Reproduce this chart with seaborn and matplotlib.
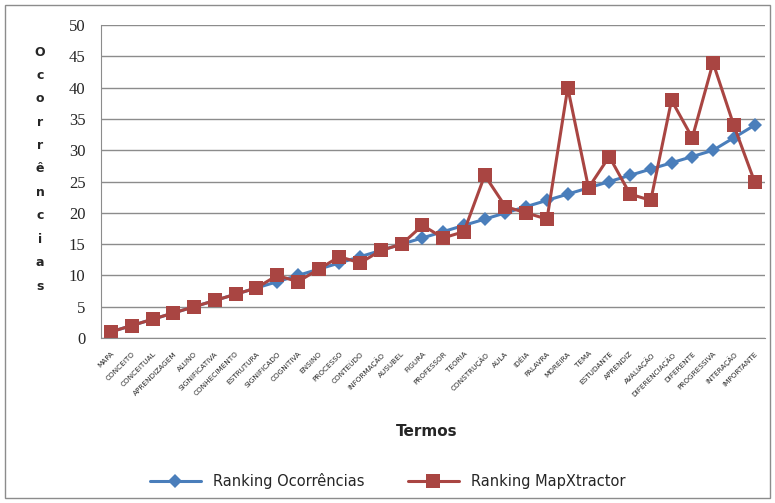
import matplotlib
matplotlib.use("Agg")
import matplotlib.pyplot as plt
from matplotlib.patches import Rectangle
import seaborn as sns
import pandas as pd
import numpy as np

termos = ["MAPA", "CONCEITO", "CONCEITUAL", "APRENDIZAGEM", "ALUNO", "SIGNIFICATIVA",
          "CONHECIMENTO", "ESTRUTURA", "SIGNIFICADO", "COGNITIVA", "ENSINO", "PROCESSO",
          "CONTEÚDO", "INFORMAÇÃO", "AUSUBEL", "FIGURA", "PROFESSOR", "TEORIA",
          "CONSTRUÇÃO", "AULA", "IDÉIA", "PALAVRA", "MOREIRA", "TEMA", "ESTUDANTE",
          "APRENDIZ", "AVALIAÇÃO", "DIFERENCIAÇÃO", "DIFERENTE", "PROGRESSIVA",
          "INTERAÇÃO", "IMPORTANTE"]
ranking_ocorrencias = [1, 2, 3, 4, 5, 6, 7, 8, 9, 10, 11, 12, 13, 14, 15, 16, 17, 18,
                       19, 20, 21, 22, 23, 24, 25, 26, 27, 28, 29, 30, 32, 34]
ranking_mapxtractor = [1, 2, 3, 4, 5, 6, 7, 8, 10, 9, 11, 13, 12, 14, 15, 18, 16, 17,
                       26, 21, 20, 19, 40, 24, 29, 23, 22, 38, 32, 44, 34, 25]
series_names = ["Ranking Ocorrências", "Ranking MapXtractor"]
yticks = [0, 5, 10, 15, 20, 25, 30, 35, 40, 45, 50]

df = pd.DataFrame({
    "Pos": list(range(len(termos))) * 2,
    "Valor": ranking_ocorrencias + ranking_mapxtractor,
    "Serie": [series_names[0]] * len(termos) + [series_names[1]] * len(termos),
})

sns.set_style("white")
plt.rcParams['font.family'] = ['DejaVu Sans']

fig = plt.figure(figsize=(7.75, 5.03), dpi=100)
ax = fig.add_axes([0.130, 0.328, 0.857, 0.622])

pal = {series_names[0]: "#4A7EBB", series_names[1]: "#A94542"}
sns.lineplot(data=df, x="Pos", y="Valor", hue="Serie", style="Serie",
             markers={series_names[0]: "D", series_names[1]: "s"},
             dashes=False, palette=pal, linewidth=2.2, markersize=10,
             markeredgewidth=0, ax=ax, legend=True)
# diamonds smaller than the squares
ax.lines[0].set_markersize(7)

ax.set_xlim(-0.5, len(termos) - 0.5)
ax.set_ylim(0, 50)
ax.set_yticks(yticks)
ax.set_yticklabels([str(v) for v in yticks], family="Liberation Serif", fontsize=12)
ax.yaxis.grid(True, color="#8c8c8c", linewidth=1)
ax.set_axisbelow(True)

ax.set_xticks(range(len(termos)))
ax.set_xticklabels(termos, rotation=45, ha="right", va="top", fontsize=5.2,
                   rotation_mode="anchor")
ax.set_xticks(np.arange(-0.5, len(termos)), minor=True)
ax.tick_params(axis="x", which="major", length=0, pad=9)
ax.tick_params(axis="x", which="minor", length=4, color="#8c8c8c", direction="out")
ax.tick_params(axis="y", length=5, color="#8c8c8c", direction="out", pad=6)

for s in ["top", "right"]:
    ax.spines[s].set_visible(False)
for s in ["left", "bottom"]:
    ax.spines[s].set_color("#8c8c8c")
ax.set_xlabel("")
ax.set_ylabel("")

# stacked y label
ylab = "Ocorrências"
for i, ch in enumerate(ylab):
    fig.text(40 / 775, 1 - (52 + i * 23.4) / 503, ch, ha="center", va="center",
             fontsize=9, fontweight="bold")

fig.text(427 / 775, 1 - 432 / 503, "Termos", ha="center", va="center",
         fontsize=11, fontweight="bold")

handles, labels = ax.get_legend_handles_labels()
ax.legend_.remove()
handles[0].set_markersize(7)
fig.legend(handles, labels, loc="center", bbox_to_anchor=(0.5, 1 - 481 / 503),
           ncol=2, frameon=False, fontsize=10.5, handlelength=3.5, columnspacing=3)

fig.patches.append(Rectangle((5 / 775, 5 / 503), 765 / 775, 493 / 503,
                             transform=fig.transFigure, fill=False,
                             edgecolor="#8c8c8c", linewidth=1))

fig.savefig("out.png", dpi=100)
